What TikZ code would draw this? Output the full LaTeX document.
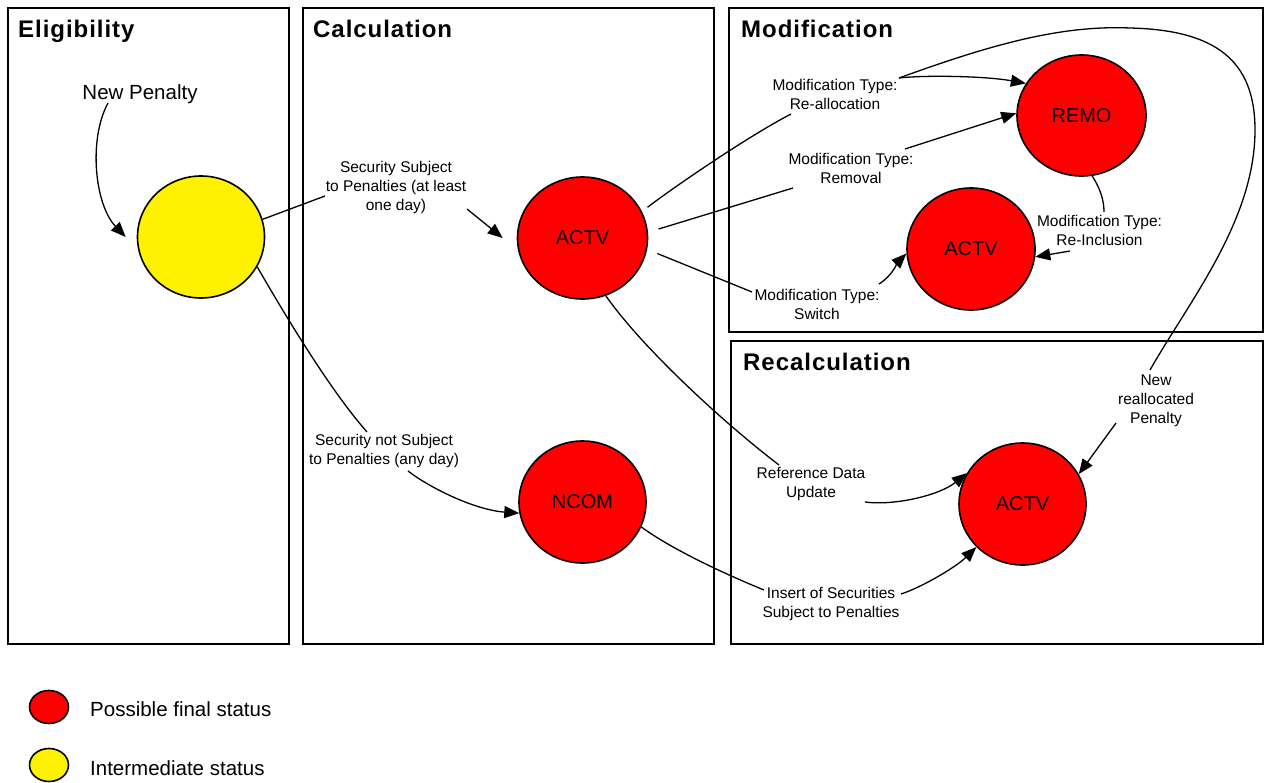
\documentclass[tikz,border=0pt]{standalone}
\usepackage{fontspec}
\setmainfont{Liberation Sans}
\newfontfamily\paneltitlefont[LetterSpace=4]{Liberation Sans}
\usetikzlibrary{shapes.geometric,arrows.meta,calc}
\begin{document}
\begin{tikzpicture}[x=1pt,y=-1pt,
  panel/.style={draw,line width=1.8pt},
  ptitle/.style={anchor=base west,font=\paneltitlefont\fontsize{24}{28}\selectfont\bfseries,inner sep=0},
  st/.style={ellipse,draw,line width=1.6pt,inner sep=0,font=\fontsize{20}{24}\selectfont},
  fin/.style={st,fill=red},
  inter/.style={st,fill=yellow},
  lbl/.style={align=center,inner sep=0,font=\fontsize{15.5}{19}\selectfont},
  conn/.style={line width=1.3pt},
  arr/.style={conn,-{Triangle[length=15pt,width=12pt]}},
  legtext/.style={anchor=base west,inner sep=0,font=\fontsize{20.5}{24}\selectfont},
]
\useasboundingbox (0,0) rectangle (1265,783);

% panels
\draw[panel] (8,8) rectangle (289,644);
\draw[panel] (303,8) rectangle (714,644);
\draw[panel] (729,8) rectangle (1263,332);
\draw[panel] (731,341) rectangle (1263,644);
\node[ptitle] (tE) at (18,38) {Eligibility};
\node[ptitle] (tC) at (313,38) {Calculation};
\node[ptitle] (tM) at (741,38) {Modification};
\node[ptitle] (tR) at (743,370) {Recalculation};

% states
\node[inter, minimum width=127pt, minimum height=122pt] (Y) at (201,237) {};
\node[fin, minimum width=130pt, minimum height=122pt] (A1) at (582.5,238) {ACTV};
\node[fin, minimum width=127pt, minimum height=122pt] (N) at (582.5,502) {NCOM};
\node[fin, minimum width=129pt, minimum height=121pt] (R) at (1081.5,115.5) {REMO};
\node[fin, minimum width=128pt, minimum height=122pt] (M) at (971,249) {ACTV};
\node[fin, minimum width=127pt, minimum height=122pt] (C) at (1022.5,504) {ACTV};

% labels
\node[lbl, font=\fontsize{20.5}{24}\selectfont] (lNP) at (140,94) {New Penalty};
\node[lbl] (lab1) at (396,187) {Security Subject\\to Penalties (at least\\one day)};
\node[lbl] (lab2) at (384,450.5) {Security not Subject\\to Penalties (any day)};
\node[lbl] (lRe) at (835,94) {Modification Type:\\Re-allocation};
\node[lbl] (lRm) at (851,168) {Modification Type:\\Removal};
\node[lbl] (lSw) at (817,304) {Modification Type:\\Switch};
\node[lbl] (lRi) at (1099.5,230) {Modification Type:\\Re-Inclusion};
\node[lbl] (lRef) at (811,484) {Reference Data\\Update};
\node[lbl] (lIns) at (831,604) {Insert of Securities\\Subject to Penalties};
\node[lbl] (lNew) at (1156,400.5) {New\\reallocated\\Penalty};

% connectors
\draw[arr] ($(lNP)+(-32,9)$) .. controls (88,140) and (95,205) .. ([xshift=-11pt]Y.180);
\draw[conn] (Y.16) -- ($(lab1)+(-71,9)$);
\draw[arr] ($(lab1)+(71,22)$) -- ([xshift=-14pt]A1.180);
\draw[conn] (Y.-28) .. controls (285,315) and (330,390) .. ($(lab2)+(-17,-18.5)$);
\draw[arr] ($(lab2)+(24,20.5)$) .. controls (430,488) and (475,510) .. (N.190);

\draw[conn,shorten <=7pt] (A1.24) .. controls (670,190) and (745,138) .. ($(lRe)+(-44,20)$);
\draw[arr] ($(lRe)+(64,-16)$) .. controls (925,75) and (985,76) .. (R.150);
\draw[conn] ($(lRe)+(64,-16)$) .. controls (990,45) and (1060,25) .. (1130,28)
   .. controls (1215,30) and (1255,60) .. (1255,130)
   .. controls (1255,220) and (1190,300) .. ($(lNew)+(-6,-30.5)$);
\draw[conn,shorten <=11pt] (A1.5) -- ($(lRm)+(-58,20)$);
\draw[arr] ($(lRm)+(54,-19)$) -- (R.178);
\draw[conn,shorten <=11pt] (A1.-10) -- ($(lSw)+(-65,-12)$);
\draw[arr] ($(lSw)+(62,-20)$) .. controls (893,275) and (898,262) .. (M.184);
\draw[conn] (R.-80) .. controls (1100,188) and (1104,200) .. ($(lRi)+(4.5,-18)$);
\draw[arr] ($(lRi)+(-29.5,21)$) -- (M.-7);

\draw[conn] (A1.-68) .. controls (640,345) and (720,420) .. ($(lRef)+(-32,-19)$);
\draw[arr] ($(lRef)+(54,18)$) .. controls (895,506) and (940,495) .. (C.151);
\draw[conn] (N.-23) .. controls (670,548) and (720,572) .. ($(lIns)+(-67,-14)$);
\draw[arr] ($(lIns)+(70,-10)$) .. controls (920,588) and (955,568) .. (C.223);
\draw[arr] ($(lNew)+(-40,22.5)$) -- (C.28);

% legend
\node[st, fill=red, minimum width=39pt, minimum height=33pt] (legR) at (49,707) {};
\node[st, fill=yellow, minimum width=39pt, minimum height=33pt] (legY) at (49,765) {};
\node[legtext] (legRt) at (90,716) {Possible final status};
\node[legtext] (legYt) at (90,775) {Intermediate status};
\end{tikzpicture}
\end{document}
